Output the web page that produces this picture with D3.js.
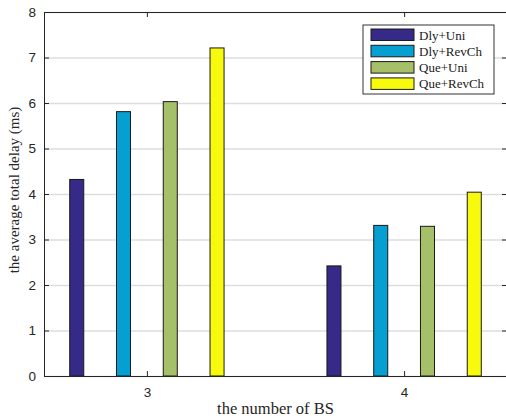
<!DOCTYPE html>
<html>
<head>
<meta charset="utf-8">
<script src="https://cdn.jsdelivr.net/npm/d3@7"></script>
<style>
  body { margin: 0; background: #fff; }
  svg { display: block; }
</style>
</head>
<body>
<div id="chart"></div>
<script>
const width = 506;
const height = 420;

// data
const groups = [3, 4];
const seriesNames = ["Dly+Uni", "Dly+RevCh", "Que+Uni", "Que+RevCh"];
const dlyUni = [4.32, 2.42];
const dlyRevCh = [5.81, 3.31];
const queUni = [6.03, 3.29];
const queRevCh = [7.21, 4.04];
const yTicks = [0, 1, 2, 3, 4, 5, 6, 7, 8];

const seriesValues = [dlyUni, dlyRevCh, queUni, queRevCh];
const colors = ["#352a87", "#069fd2", "#a6bf69", "#f8fa0d"];

const plot = { left: 44, right: 507, top: 12, bottom: 376 };

const svg = d3.select("#chart").append("svg")
  .attr("width", width)
  .attr("height", height);

const x = d3.scaleLinear().domain([2.6, 4.4]).range([plot.left, plot.right]);
const y = d3.scaleLinear().domain([0, 8]).range([plot.bottom, plot.top]);

// matlab grouped bar: group width 4/(4+1.5), bar width 0.3 of slot
const groupWidth = 4 / 5.5;
const slot = d3.scaleBand()
  .domain(seriesNames)
  .range([-groupWidth / 2, groupWidth / 2]);
const barW = slot.bandwidth() * 0.3;

// grid
svg.append("g")
  .attr("transform", `translate(${plot.left},0)`)
  .call(d3.axisLeft(y).tickValues(yTicks).tickSize(-(plot.right - plot.left)).tickFormat(""))
  .call(g => g.select(".domain").remove())
  .call(g => g.selectAll("line").attr("stroke", "#dedede").attr("stroke-width", 1.5));

// bars
const table = [];
groups.forEach((gv, i) => {
  seriesNames.forEach((s, j) => {
    table.push({ group: gv, series: s, value: seriesValues[j][i], color: colors[j] });
  });
});

svg.append("g").selectAll("rect")
  .data(table)
  .join("rect")
  .attr("x", d => x(d.group + slot(d.series) + slot.bandwidth() / 2 - barW / 2))
  .attr("width", d => x(barW) - x(0))
  .attr("y", d => y(d.value))
  .attr("height", d => y(0) - y(d.value))
  .attr("fill", d => d.color)
  .attr("stroke", "#1a1a1a")
  .attr("stroke-width", 1);

// axes (ticks inward, matlab style)
const tickFont = "'Liberation Sans', Arial, sans-serif";

svg.append("g")
  .attr("transform", `translate(${plot.left},0)`)
  .call(d3.axisLeft(y).tickValues(yTicks).tickSizeInner(-5).tickSizeOuter(0).tickPadding(8))
  .call(g => g.selectAll("text").attr("font-family", tickFont).attr("font-size", 13.5).attr("fill", "#262626"));

svg.append("g")
  .attr("transform", `translate(${plot.right},0)`)
  .call(d3.axisRight(y).tickValues(yTicks).tickSizeInner(-5).tickSizeOuter(0).tickFormat(""));

svg.append("g")
  .attr("transform", `translate(0,${plot.bottom})`)
  .call(d3.axisBottom(x).tickValues(groups).tickSizeInner(-5).tickSizeOuter(0).tickPadding(11).tickFormat(d3.format("d")))
  .call(g => g.selectAll("text").attr("font-family", tickFont).attr("font-size", 13.5).attr("fill", "#262626"));

svg.append("g")
  .attr("transform", `translate(0,${plot.top})`)
  .call(d3.axisTop(x).tickValues(groups).tickSizeInner(-5).tickSizeOuter(0).tickFormat(""));

svg.selectAll(".domain, .tick line").filter(function () {
  return d3.select(this).attr("stroke") === "currentColor";
}).attr("stroke", "#262626");

// axis labels
const labelFont = "'Liberation Serif', 'Times New Roman', serif";

svg.append("text")
  .attr("x", (plot.left + plot.right) / 2)
  .attr("y", 414)
  .attr("text-anchor", "middle")
  .attr("font-family", labelFont)
  .attr("font-size", 16.5)
  .attr("fill", "#262626")
  .text("the number of BS");

svg.append("text")
  .attr("transform", "translate(19,190) rotate(-90)")
  .attr("text-anchor", "middle")
  .attr("font-family", labelFont)
  .attr("font-size", 15)
  .attr("fill", "#262626")
  .text("the average total delay (ms)");

// legend
const legend = svg.append("g").attr("transform", "translate(363,25)");
legend.append("rect")
  .attr("width", 131)
  .attr("height", 69)
  .attr("fill", "#fff")
  .attr("stroke", "#333")
  .attr("stroke-width", 1);

const item = legend.selectAll("g.item")
  .data(seriesNames)
  .join("g")
  .attr("class", "item")
  .attr("transform", (d, i) => `translate(8,${4 + i * 16.3})`);

item.append("rect")
  .attr("width", 43)
  .attr("height", 11.5)
  .attr("fill", (d, i) => colors[i])
  .attr("stroke", "#1a1a1a");

item.append("text")
  .attr("x", 48)
  .attr("y", 6)
  .attr("dy", "0.35em")
  .attr("font-family", labelFont)
  .attr("font-size", 13)
  .attr("fill", "#1a1a1a")
  .text(d => d);
</script>
</body>
</html>
